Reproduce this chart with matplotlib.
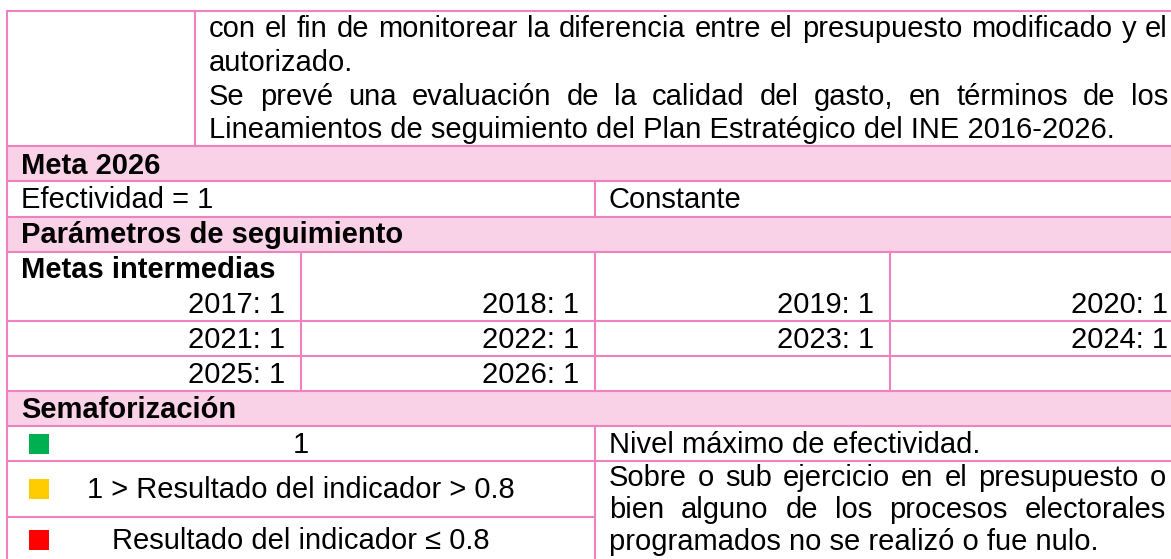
import matplotlib.pyplot as plt
from matplotlib.patches import Rectangle

plt.rcParams['font.family'] = ['Liberation Sans', 'DejaVu Sans']

# contenido de la tabla
parrafo_1 = ["con el fin de monitorear la diferencia entre el presupuesto modificado y el",
             "autorizado."]
parrafo_2 = ["Se prevé una evaluación de la calidad del gasto, en términos de los",
             "Lineamientos de seguimiento del Plan Estratégico del INE 2016-2026."]
meta_titulo = "Meta 2026"
meta_valor = "Efectividad = 1"
meta_tipo = "Constante"
param_titulo = "Parámetros de seguimiento"
metas_titulo = "Metas intermedias"
anios = [2017, 2018, 2019, 2020, 2021, 2022, 2023, 2024, 2025, 2026]
metas = [1, 1, 1, 1, 1, 1, 1, 1, 1, 1]
semaforo_titulo = "Semaforización"
semaforo_colores = ['#00B050', '#FFCC00', '#FF0000']
semaforo_rangos = ["1", "1 > Resultado del indicador > 0.8", "Resultado del indicador ≤ 0.8"]
semaforo_desc_1 = ["Nivel máximo de efectividad."]
semaforo_desc_2 = ["Sobre o sub ejercicio en el presupuesto o",
                   "bien alguno de los procesos electorales",
                   "programados no se realizó o fue nulo."]

# geometria (pixeles)
W, H = 1171, 559
FS = 21
borde = '#EE82BF'
relleno = '#F9D2E8'
x_izq, x_der = 7, 1190
x_desc = 195
cols = [7, 301, 595, 890, 1184]
pad = 14
paso = 33.8
y_lineas = [11, 146, 181, 217, 252, 321, 356, 391, 426, 461]
bandas = [(146, 181), (217, 252), (391, 426)]

fig = plt.figure(figsize=(W / 100, H / 100), dpi=100)
ax = fig.add_axes([0, 0, 1, 1])
ax.set_xlim(0, W)
ax.set_ylim(H, 0)
ax.axis('off')
renderer = fig.canvas.get_renderer()


def ancho(txt, **kw):
    t = ax.text(0, 0, txt, fontsize=FS, **kw)
    w = t.get_window_extent(renderer).width
    t.remove()
    return w


def linea(txt, x0, x1, y, justificar=False):
    if not justificar:
        ax.text(x0, y, txt, fontsize=FS, va='baseline', ha='left')
        return
    palabras = txt.split()
    anchos = [ancho(p) for p in palabras]
    hueco = (x1 - x0 - sum(anchos)) / (len(palabras) - 1)
    x = x0
    for p, w in zip(palabras, anchos):
        ax.text(x, y, p, fontsize=FS, va='baseline', ha='left')
        x += w + hueco


def parrafo(lineas, x0, x1, y0, dy=paso):
    for i, txt in enumerate(lineas):
        linea(txt, x0, x1, y0 + i * dy, justificar=(i < len(lineas) - 1))
    return y0 + len(lineas) * dy


# bandas rosas
for y0, y1 in bandas:
    ax.add_patch(Rectangle((x_izq, y0), x_der - x_izq, y1 - y0, facecolor=relleno, edgecolor='none'))

# lineas horizontales
for y in y_lineas:
    ax.plot([x_izq, x_der], [y, y], color=borde, lw=1.5, solid_capstyle='butt')
ax.plot([x_izq, cols[2]], [517, 517], color=borde, lw=1.5, solid_capstyle='butt')

# lineas verticales
ax.plot([x_izq, x_izq], [11, H + 5], color=borde, lw=1.5)
ax.plot([x_desc, x_desc], [11, 146], color=borde, lw=1.5)
ax.plot([cols[2], cols[2]], [181, 217], color=borde, lw=1.5)
for x in cols[1:4]:
    ax.plot([x, x], [252, 391], color=borde, lw=1.5)
ax.plot([cols[2], cols[2]], [426, H + 5], color=borde, lw=1.5)

# parrafo superior
y = parrafo(parrafo_1, x_desc + pad, 1168, 11 + 26)
parrafo(parrafo_2, x_desc + pad, 1168, y)

# meta
ax.text(x_izq + pad, 181 - 7, meta_titulo, fontsize=FS, fontweight='bold', va='baseline')
ax.text(x_izq + pad, 217 - 9, meta_valor, fontsize=FS, va='baseline')
ax.text(cols[2] + pad, 217 - 9, meta_tipo, fontsize=FS, va='baseline')
ax.text(x_izq + pad, 252 - 9, param_titulo, fontsize=FS, fontweight='bold', va='baseline')

# metas intermedias
ax.text(x_izq + pad, 252 + 26, metas_titulo, fontsize=FS, fontweight='bold', va='baseline')
filas_base = [321 - 8, 356 - 8, 391 - 8]
for i, (a, m) in enumerate(zip(anios, metas)):
    fila, col = divmod(i, 4)
    ax.text(cols[col + 1] - 16, filas_base[fila], f"{a}: {m}", fontsize=FS, va='baseline', ha='right')

# semaforizacion
ax.text(x_izq + pad, 426 - 8, semaforo_titulo, fontsize=FS, fontweight='bold', va='baseline')
base_sem = [453, 498, 549]
x_centro = (x_izq + cols[2]) / 2
for color, rango, yb in zip(semaforo_colores, semaforo_rangos, base_sem):
    ax.add_patch(Rectangle((29, yb + 1), 20, -20, facecolor=color, edgecolor='none'))
    ax.text(x_centro, yb, rango, fontsize=FS, va='baseline', ha='center')

parrafo(semaforo_desc_1, cols[2] + pad, 1168, 453)
parrafo(semaforo_desc_2, cols[2] + pad, 1166, 461 + 25, dy=32)

fig.savefig('out.png', dpi=100)
